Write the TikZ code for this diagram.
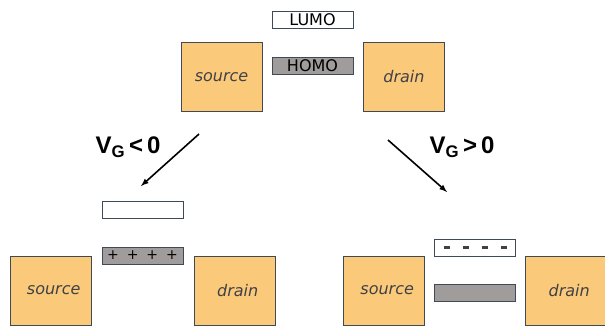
\documentclass[tikz,border=0pt]{standalone}
\usepackage{fontspec}
\setmainfont{Liberation Sans}
\newfontfamily\boxfont{DejaVu Sans}
\usepackage{tikz}
\usetikzlibrary{arrows}
\usetikzlibrary{positioning}
\tikzset{metal/.style = {draw = mframe, fill = morange, line width = 0.7,
                         minimum width = 81, minimum height = 69, inner sep = 0,
                         font = \boxfont\itshape\fontsize{16}{16}\selectfont, text = mtext}}
\tikzset{level/.style = {draw = mframe, line width = 0.7, minimum width = 81,
                         minimum height = 17, inner sep = 0,
                         font = \boxfont\fontsize{16}{16}\selectfont}}
\tikzset{lumo/.style = {level, fill = white}}
\tikzset{homo/.style = {level, fill = mgray}}
\tikzset{gate/.style = {font = \bfseries\fontsize{24}{24}\selectfont}}
\tikzset{gatearrow/.style = {draw, line width = 1.6, -latex}}
\definecolor{morange}{rgb}{0.98, 0.79, 0.48}
\definecolor{mgray}{rgb}{0.63, 0.61, 0.61}
\definecolor{mframe}{rgb}{0.25, 0.29, 0.34}
\definecolor{mtext}{rgb}{0.25, 0.25, 0.28}
\newcommand{\charges}[2]{#1\hspace{#2}#1\hspace{#2}#1\hspace{#2}#1}
\newcommand{\minus}{\rule[0pt]{6pt}{2.2pt}}

\begin{document}
\begin{tikzpicture}[x = 1pt, y = -1pt]
    \useasboundingbox (0, 0) rectangle (605, 325);

    % molecule between the contacts
    \node [lumo] (lumo) at (312.5, 19.5) {LUMO};
    \node [homo] (homo) at (312.5, 65.5) {HOMO};
    \node [metal] (src) at (221.5, 77) {source};
    \node [metal] (drn) at (404, 76.5) {drain};

    % negative gate
    \node [lumo] (lumoN) at (142.5, 209.5) {};
    \node [homo, font = \boxfont\fontsize{14}{14}\selectfont] (homoN) at (142.5, 255.5) {\charges{+}{8pt}};
    \node [metal] (srcN) at (50.5, 290.5) {\hspace{0.4em}source};
    \node [metal] (drnN) at (234.5, 290.5) {\hspace{0.4em}drain};

    % positive gate
    \node [lumo, text = mtext] (lumoP) at (475, 247.5) {\charges{\minus}{13pt}};
    \node [homo] (homoP) at (475, 293) {};
    \node [metal] (srcP) at (384, 290.5) {\hspace{0.4em}source};
    \node [metal] (drnP) at (566, 290.5) {\hspace{0.4em}drain};

    \coordinate (a1) at (199, 134);
    \coordinate (a2) at (141, 186);
    \coordinate (b1) at (388, 140);
    \coordinate (b2) at (447, 192);
    \draw [gatearrow] (a1) -- (a2);
    \draw [gatearrow] (b1) -- (b2);

    \node [gate] (vneg) at (128, 147) {V\textsubscript{G}\,<\,0};
    \node [gate] (vpos) at (462, 147) {V\textsubscript{G}\,>\,0};
  \end{tikzpicture}
\end{document}
